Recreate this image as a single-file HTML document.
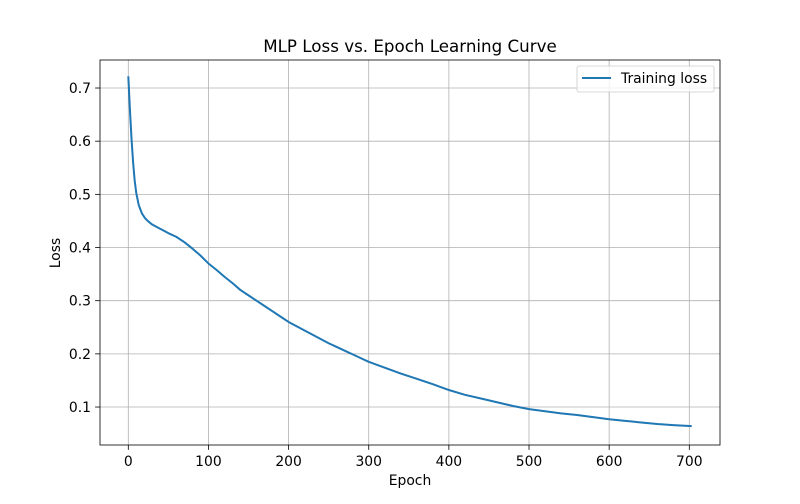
<!DOCTYPE html>
<html><head><meta charset="utf-8"><style>
body{margin:0;background:#fff;font-family:"DejaVu Sans","Liberation Sans",sans-serif}
svg text{font-family:"DejaVu Sans","Liberation Sans",sans-serif}
</style></head><body>
<svg id="chart" width="800" height="500" xmlns="http://www.w3.org/2000/svg"></svg>
<script>
const epochs=[0,2,4,6,8,10,13,17,21,25,30,40,50,60,70,80,90,100,110,120,130,140,150,160,170,180,190,200,210,220,230,240,250,260,270,280,290,300,320,340,360,380,400,420,440,460,480,500,520,540,560,580,600,620,640,660,680,703];
const losses=[0.722,0.66,0.605,0.56,0.525,0.502,0.48,0.464,0.455,0.449,0.443,0.435,0.427,0.42,0.41,0.398,0.385,0.37,0.358,0.345,0.333,0.32,0.31,0.3,0.29,0.28,0.27,0.26,0.252,0.244,0.236,0.228,0.22,0.213,0.206,0.199,0.192,0.185,0.174,0.163,0.153,0.143,0.132,0.123,0.116,0.109,0.102,0.096,0.092,0.088,0.085,0.081,0.077,0.074,0.071,0.068,0.066,0.064];
const xTicks=[0,100,200,300,400,500,600,700];
const yTicks=[0.1,0.2,0.3,0.4,0.5,0.6,0.7];
const svg=document.getElementById('chart');
const NS='http://www.w3.org/2000/svg';
const L=100,R=720,T=60,B=445;
const xs=v=>128.3+v*(561/700);
const ys=v=>460.2-v*531.7;
function mk(tag,attrs,parent){const e=document.createElementNS(NS,tag);for(const k in attrs)e.setAttribute(k,attrs[k]);(parent||svg).appendChild(e);return e;}
xTicks.forEach(t=>{
 const g=mk('line',{x1:xs(t),x2:xs(t),y1:T,y2:B,stroke:'#b0b0b0','stroke-width':0.8});
 
 
 mk('line',{x1:xs(t),x2:xs(t),y1:B,y2:B+4.9,stroke:'#000','stroke-width':0.8});
 const tx=mk('text',{x:xs(t),y:B+21,'font-size':13.9,'text-anchor':'middle'});tx.textContent=t;
 
 
});
yTicks.forEach(t=>{
 const g=mk('line',{x1:L,x2:R,y1:ys(t),y2:ys(t),stroke:'#b0b0b0','stroke-width':0.8});
 
 
 mk('line',{x1:L-4.9,x2:L,y1:ys(t),y2:ys(t),stroke:'#000','stroke-width':0.8});
 const tx=mk('text',{x:L-9,y:ys(t)+5,'font-size':13.9,'text-anchor':'end'});tx.textContent=t.toFixed(1);
 
 
});
const p=mk('polyline',{points:epochs.map((e,i)=>xs(e)+','+ys(losses[i])).join(' '),fill:'none',stroke:'#1f77b4','stroke-width':2,'stroke-linejoin':'round'});


const fr=mk('rect',{x:L,y:T,width:R-L,height:B-T,fill:'none',stroke:'#000','stroke-width':0.8});


</script>
<svg style="position:absolute;left:0;top:0" width="800" height="500">
<text x="410" y="52" font-size="16.7" text-anchor="middle">MLP Loss vs. Epoch Learning Curve</text>
<text x="410" y="485" font-size="13.9" text-anchor="middle">Epoch</text>
<text x="60" y="253" font-size="13.9" text-anchor="middle" transform="rotate(-90 60 253)">Loss</text>
<g>
<rect x="577" y="66" width="137" height="26" rx="2" fill="#fff" fill-opacity="0.8" stroke="#ccc" stroke-width="0.8"/>
<line x1="582" x2="611" y1="78" y2="78" stroke="#1f77b4" stroke-width="2"/>
<text x="621" y="83" font-size="13.9">Training loss</text>
</g>
</svg>
</body></html>
